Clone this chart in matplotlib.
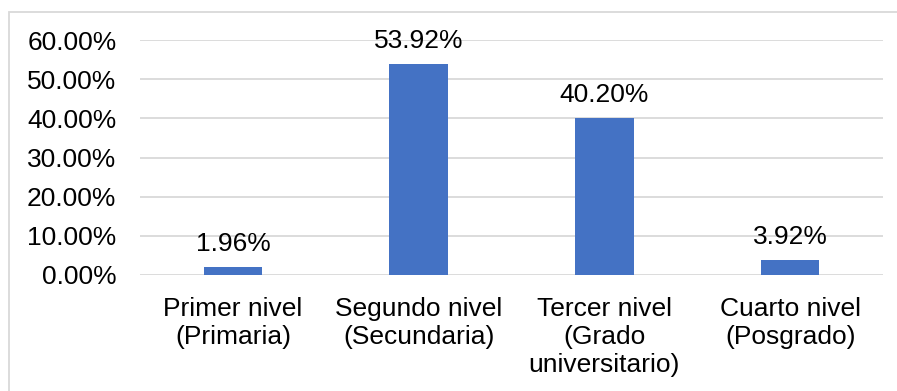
import matplotlib.pyplot as plt
from matplotlib.patches import Rectangle
from matplotlib.ticker import FuncFormatter

plt.rcParams['font.family'] = ['Liberation Sans', 'DejaVu Sans']

categories = [
    'Primer nivel\n(Primaria)',
    'Segundo nivel\n(Secundaria)',
    'Tercer nivel\n(Grado\nuniversitario)',
    'Cuarto nivel\n(Posgrado)',
]
shares = [0.0196, 0.5392, 0.4020, 0.0392]
yticks = [0.0, 0.1, 0.2, 0.3, 0.4, 0.5, 0.6]

W, H = 897, 391
fig = plt.figure(figsize=(W / 100, H / 100), dpi=100)

# chart frame
fig.patches.append(Rectangle((8.5 / W, -0.5), 2.0, (H - 11.5) / H + 0.5,
                             transform=fig.transFigure, fill=False,
                             edgecolor='#D9D9D9', linewidth=1.3))

ax = fig.add_axes([140 / W, (H - 275) / H, (883 - 140) / W, 235 / H])

x = range(len(categories))
ax.bar(x, shares, width=0.315, color='#4472C4', zorder=3)

for xi, v in zip(x, shares):
    ax.annotate(f'{v * 100:.2f}%', (xi, v), xytext=(0, 11.5),
                textcoords='offset points', ha='center', va='baseline',
                fontsize=19, color='#000000', zorder=4)

ax.set_xlim(-0.5, len(categories) - 0.5)
ax.set_ylim(0, 0.6)
ax.set_yticks(yticks)
ax.yaxis.set_major_formatter(FuncFormatter(lambda v, _: f'{v * 100:.2f}%'))
ax.set_xticks(list(x))
ax.set_xticklabels(categories)

ax.tick_params(axis='both', length=0, labelsize=19, labelcolor='#000000')
ax.tick_params(axis='x', pad=16)
ax.tick_params(axis='y', pad=17)

ax.grid(axis='y', color='#D9D9D9', linewidth=1.3, zorder=0)
for s in ax.spines.values():
    s.set_visible(False)

fig.savefig('out.png', dpi=100)
